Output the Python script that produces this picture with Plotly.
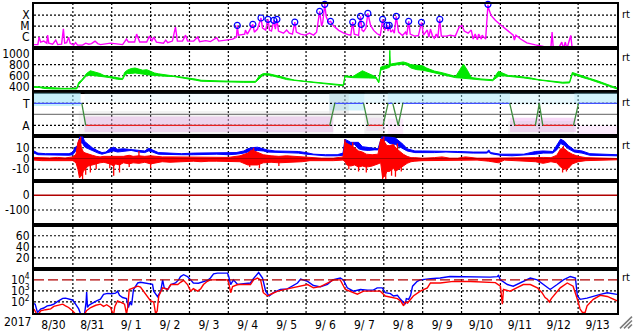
import plotly.graph_objects as go
from plotly.subplots import make_subplots

# ---------------- time axis: days since 2017-08-30 00:00 UT ----------------
day_ticks = [0.5 + i for i in range(15)]
day_labels = ["8/30", "8/31", "9/ 1", "9/ 2", "9/ 3", "9/ 4", "9/ 5", "9/ 6",
              "9/ 7", "9/ 8", "9/ 9", "9/10", "9/11", "9/12", "9/13"]
midnights = list(range(1, 15))

# ---------------- panel 1: X-ray flux (log10 W/m2) ----------------
xray_t = [0.00, 0.10, 0.13, 0.17, 0.25, 0.33, 0.35, 0.38, 0.48, 0.56,
          0.61, 0.71, 0.756, 0.79, 0.84, 0.89, 0.93, 1.02, 1.07, 1.12,
          1.25, 1.33, 1.41, 1.48, 1.57, 1.64, 1.71, 1.97, 2.18, 2.28,
          2.38, 2.43, 2.59, 2.64, 2.72, 2.90, 2.97, 3.03, 3.08, 3.15,
          3.33, 3.39, 3.44, 3.56, 3.64, 3.69, 3.82, 3.90, 3.95, 4.11,
          4.21, 4.26, 4.42, 4.54, 4.70, 4.75, 4.93, 5.11, 5.21, 5.23,
          5.26, 5.42, 5.44, 5.49, 5.63, 5.67, 5.75, 5.84, 5.88, 5.96,
          6.02, 6.06, 6.11, 6.17, 6.21, 6.25, 6.29, 6.42, 6.50, 6.57,
          6.65, 6.71, 6.75, 6.86, 6.98, 7.09, 7.19, 7.27, 7.35, 7.40,
          7.43, 7.48, 7.52, 7.58, 7.63, 7.71, 7.84, 7.97, 8.10, 8.15,
          8.20, 8.24, 8.35, 8.40, 8.44, 8.48, 8.54, 8.59, 8.66, 8.74,
          8.83, 8.91, 8.97, 9.02, 9.05, 9.08, 9.11, 9.14, 9.18, 9.23,
          9.27, 9.32, 9.38, 9.48, 9.56, 9.59, 9.64, 9.68, 9.79, 9.89,
          9.97, 10.02, 10.12, 10.16, 10.20, 10.25, 10.30, 10.35, 10.39, 10.44,
          10.48, 10.61, 10.71, 10.84, 10.94, 11.01, 11.07, 11.17, 11.25, 11.30,
          11.35, 11.41, 11.44, 11.51, 11.53, 11.62, 11.68, 11.70, 11.76, 11.87,
          12.00, 12.13, 12.25, 12.33, 12.36, 12.40, 12.51, 12.68, 12.90, 13.11,
          13.30, 13.33, 13.36, 13.49, 13.58, 13.62, 13.67, 13.71, 13.81, 13.85,
          14.26, 14.31, 14.36, 14.72, 14.75, 14.78, 15.0]
xray_log = [-6.68, -6.68, -6.0, -6.45, -6.36, -6.55, -5.82, -6.55, -6.64, -6.27,
            -6.68, -6.64, -5.25, -6.55, -6.5, -6.0, -6.55, -6.73, -6.5, -6.73,
            -6.73, -6.55, -6.64, -6.59, -6.36, -6.59, -6.68, -6.55, -6.64, -6.68,
            -6.18, -6.45, -6.45, -5.73, -6.45, -6.45, -5.91, -6.36, -6.0, -6.45,
            -6.55, -6.27, -6.5, -6.36, -5.09, -6.36, -6.36, -5.82, -6.36, -6.36,
            -6.0, -6.41, -6.32, -6.41, -6.05, -6.36, -6.27, -6.18, -6.0, -4.94,
            -5.82, -5.73, -5.36, -5.73, -4.85, -5.55, -5.27, -4.27, -5.18, -5.36,
            -4.39, -5.36, -5.45, -4.48, -5.27, -4.39, -5.45, -5.64, -5.36, -5.64,
            -5.73, -4.64, -5.55, -5.73, -5.82, -5.64, -5.82, -5.55, -3.66, -5.0,
            -4.64, -3.03, -4.18, -4.64, -4.57, -5.0, -5.39, -5.64, -5.79, -5.82,
            -4.64, -5.73, -5.85, -4.12, -5.36, -5.48, -5.18, -3.85, -4.94, -5.39,
            -5.70, -5.85, -4.39, -5.39, -5.18, -4.94, -5.45, -4.94, -5.55, -5.36,
            -5.64, -4.12, -5.55, -5.85, -5.55, -5.82, -4.57, -5.73, -5.91, -5.86,
            -4.66, -5.82, -5.36, -6.0, -5.27, -5.86, -6.09, -5.73, -6.05, -4.39,
            -5.91, -5.91, -5.82, -5.91, -5.09, -4.94, -5.45, -5.64, -5.36, -6.18,
            -5.73, -6.23, -5.73, -6.18, -5.82, -6.18, -3.07, -3.43, -4.03, -4.48,
            -4.88, -5.25, -5.55, -5.82, -6.27, -5.82, -6.15, -6.52, -6.70, -6.85,
            -6.91, -5.55, -7.0, -7.05, -6.45, -7.05, -6.45, -7.05, -5.85, -7.1,
            -7.1, -6.91, -7.1, -7.1, -6.95, -7.1, -7.1]
flare_t = [5.23, 5.63, 5.84, 6.02, 6.17, 6.25, 6.71, 7.35, 7.48, 7.63, 8.20,
           8.40, 8.42, 8.59, 8.97, 9.08, 9.14, 9.32, 9.64, 9.97, 10.44, 11.68]
flare_log = [-4.94, -4.85, -4.27, -4.39, -4.48, -4.39, -4.64, -3.66, -3.03, -4.57, -4.64,
             -4.12, -4.85, -3.85, -4.39, -4.94, -4.94, -4.12, -4.57, -4.66, -4.39, -3.03]
xray_class_vals = [1e-4, 1e-5, 1e-6]
xray_class_text = ["X", "M", "C"]

# ---------------- panel 2: solar wind speed (km/s), envelope ----------------
wind_t = [0.0, 0.15, 0.25, 0.5, 0.75, 1.0, 1.1, 1.15, 1.22, 1.3,
          1.35, 1.45, 1.55, 1.7, 1.8, 1.95, 2.05, 2.15, 2.28, 2.33,
          2.4, 2.5, 2.6, 2.7, 2.8, 2.9, 3.0, 3.1, 3.2, 3.4,
          3.6, 3.8, 4.0, 4.15, 4.3, 4.6, 5.0, 5.4, 5.7, 5.8,
          5.9, 6.05, 6.2, 6.35, 6.5, 6.7, 7.0, 7.4, 7.8, 7.96,
          8.0, 8.2, 8.45, 8.6, 8.8, 8.87, 8.92, 9.05, 9.14, 9.155, 9.17, 9.2,
          9.35, 9.5, 9.6, 9.7, 9.85, 10.0, 10.1, 10.3, 10.5, 10.7,
          10.85, 10.95, 11.05, 11.15, 11.25, 11.5, 11.8, 11.95, 12.05, 12.2,
          12.4, 12.6, 12.8, 13.0, 13.3, 13.6, 13.78, 13.85, 13.95, 14.1,
          14.3, 14.5, 14.7, 14.9, 15.0]
wind_lo = [390, 385, 370, 360, 355, 358, 360, 440, 500, 560,
           600, 610, 600, 590, 580, 565, 555, 535, 530, 600,
           640, 640, 650, 640, 630, 620, 610, 600, 595, 590,
           585, 560, 540, 520, 500, 490, 485, 480, 480, 550,
           615, 610, 590, 560, 530, 505, 480, 460, 430, 420,
           580, 565, 560, 560, 555, 470, 700, 730, 750, 760, 780, 790,
           800, 810, 790, 740, 710, 700, 680, 650, 620, 590,
           565, 560, 560, 555, 545, 525, 510, 590, 600, 585,
           575, 560, 540, 510, 490, 465, 470, 620, 610, 570,
           530, 490, 440, 385, 360]
wind_hi = [405, 398, 385, 375, 370, 372, 378, 480, 520, 590,
           640, 690, 670, 640, 605, 585, 572, 555, 548, 660,
           700, 730, 740, 720, 700, 710, 680, 650, 635, 615,
           605, 585, 565, 540, 518, 508, 502, 498, 498, 600,
           640, 635, 615, 585, 555, 522, 498, 474, 448, 434,
           598, 585, 690, 640, 578, 488, 755, 785, 795, 1060, 805, 815,
           830, 850, 830, 800, 790, 780, 740, 685, 655, 615,
           588, 700, 810, 700, 568, 542, 528, 680, 655, 605,
           596, 582, 557, 527, 507, 482, 488, 660, 635, 595,
           552, 508, 458, 402, 378]
wind_ticks = [1000, 800, 600, 400]
wind_grid = [800, 600, 400]

# ---------------- panel 3: IMF sector (T = +1, A = -1) ----------------
ta_t = [0, 1.23, 1.33, 7.61, 7.74, 8.48, 8.60, 8.98, 9.11, 9.23, 9.37, 9.49,
        12.24, 12.37, 12.90, 13.00, 13.09, 13.88, 14.01, 15.0]
ta_v = [1, 1, -1, -1, 1, 1, -1, -1, 1, 1, -1, 1, 1, -1, -1, 1, -1, -1, 1, 1]
# scattered direction samples summarised as bands: start, end, low, high, kind, density
band_t0 = [0.00, 1.30, 7.60, 8.50, 9.10, 12.25, 13.90,
           1.30, 8.55, 9.10, 12.25, 14.00,
           1.15, 7.60, 8.50, 12.20]
band_t1 = [1.20, 7.60, 8.50, 9.10, 12.25, 13.90, 15.00,
           7.70, 9.05, 9.50, 13.95, 15.00,
           7.70, 8.10, 9.00, 13.90]
band_lo = [0.75, 1.10, 0.35, 1.00, 0.95, 0.90, 0.95,
           -1.60, -1.50, -1.80, -1.60, -1.90,
           -1.90, 0.00, -1.90, -1.90]
band_hi = [1.95, 1.95, 1.90, 1.95, 1.95, 1.95, 1.95,
           -0.20, -0.30, -0.40, -0.30, -1.00,
           0.30, 1.90, 0.00, -0.60]
band_kind = ["T", "T", "T", "T", "T", "T", "T",
             "A", "A", "A", "A", "A",
             "N", "N", "N", "N"]
band_dens = [0.55, 0.12, 0.45, 0.25, 0.45, 0.25, 0.45,
             0.45, 0.22, 0.25, 0.45, 0.22,
             0.18, 0.25, 0.22, 0.18]

# ---------------- panel 4: IMF Bt (blue) and Bz (red), nT ----------------
bt_t = [0.0, 0.1, 0.3, 0.6, 0.9, 1.0, 1.05, 1.12, 1.18, 1.25,
        1.3, 1.4, 1.5, 1.65, 1.75, 1.85, 1.95, 2.05, 2.15, 2.3,
        2.5, 2.7, 2.85, 2.95, 3.05, 3.2, 3.5, 3.8, 4.1, 4.4,
        4.7, 5.0, 5.2, 5.4, 5.5, 5.6, 5.75, 5.9, 6.0, 6.2,
        6.5, 6.8, 7.0, 7.2, 7.5, 7.8, 7.95, 8.0, 8.05, 8.15,
        8.25, 8.35, 8.45, 8.6, 8.75, 8.85, 8.95, 9.05, 9.15, 9.3,
        9.4, 9.5, 9.6, 9.8, 10.0, 10.3, 10.6, 10.9, 11.3, 11.65,
        11.7, 11.75, 12.0, 12.3, 12.6, 12.9, 13.1, 13.35, 13.45, 13.55,
        13.65, 13.75, 13.9, 14.1, 14.3, 14.6, 15.0]
bt_lo = [5, 3.5, 3.5, 3, 3, 3.5, 6, 9, 15, 14,
         11, 9, 7, 5, 4, 4.5, 6, 7, 6, 7,
         7.5, 6, 5.5, 7, 6, 4, 3.5, 3.5, 3.5, 3.5,
         4, 3.5, 4, 5, 6, 7, 7.5, 7, 6, 5.5,
         5.5, 5, 4, 3, 2.5, 2.5, 3, 10, 13, 12,
         13, 9, 8, 7.5, 8, 8, 15, 17, 14, 13,
         11, 9, 7, 5.5, 5.5, 5.5, 6, 5.5, 5, 5,
         6, 4.5, 3, 2.5, 3, 4, 5, 5, 8, 14,
         12, 9, 6, 5, 3, 2.5, 2.5]
bt_hi = [7, 5, 4.5, 4.5, 4.5, 6, 10, 12, 20.5, 20.5,
         16, 13, 10, 7, 5.5, 6, 9, 10.5, 8.5, 9,
         8.5, 8, 7, 9.5, 8, 5.5, 5, 4.5, 5, 5,
         5, 5.5, 5.5, 7, 9, 10, 10.5, 9, 8, 7,
         7, 6.5, 5.5, 4, 3.5, 3.5, 5, 17.5, 17, 15,
         15, 15, 11, 10, 9.5, 9, 20.5, 20.5, 20, 19,
         16, 13, 9, 7, 7, 7, 7, 6.5, 6, 6,
         8, 5.5, 4, 4, 4, 6.5, 7, 6.5, 12, 18,
         16, 12, 8, 7, 4.5, 4, 3.5]
# dense core of the Bz trace
bz_t = [0.0, 0.2, 0.4, 0.6, 0.8, 1.0, 1.08, 1.13, 1.17, 1.22,
        1.27, 1.33, 1.4, 1.5, 1.6, 1.7, 1.8, 1.95, 2.05, 2.1,
        2.2, 2.3, 2.45, 2.55, 2.7, 2.85, 3.0, 3.1, 3.3, 3.5,
        3.7, 3.9, 4.1, 4.3, 4.5, 4.7, 5.0, 5.3, 5.5, 5.6,
        5.75, 5.9, 6.1, 6.3, 6.5, 6.7, 6.9, 7.1, 7.4, 7.7,
        7.95, 8.0, 8.05, 8.15, 8.25, 8.35, 8.45, 8.55, 8.7, 8.85,
        8.92, 8.97, 9.03, 9.08, 9.15, 9.25, 9.3, 9.4, 9.5, 9.6,
        9.7, 9.8, 10.0, 10.3, 10.5, 10.7, 10.9, 11.1, 11.4, 11.7,
        11.95, 12.1, 12.4, 12.6, 12.9, 13.1, 13.3, 13.45, 13.55, 13.65,
        13.75, 13.85, 14.0, 14.2, 14.5, 15.0]
bz_lo = [-1.5, -2, -2.5, -2, -2, -2, -4, -10, -18, -16,
         -12, -9, -7, -6, -5, -4, -3.5, -5, -7, -5,
         -6, -4, -5, -4, -4.5, -3.5, -5, -4, -3, -3.5,
         -3, -3, -2.5, -3, -2.5, -2.5, -2.5, -3, -6, -6,
         -6, -4, -3.5, -4, -4, -3.5, -3, -2, -2, -2,
         -1.5, -3, -6, -7, -6, -8, -7, -8, -7, -5,
         -4, -18, -16, -12, -12, -9, -12, -9, -7, -4.5,
         -3, -2.5, -2, -2, -1.5, -1.5, -2, -1.5, -1.5, -2.5,
         -4, -1.5, -2, -2.5, -3, -4.5, -3, -4, -8, -10,
         -9, -5, -3, -2, -1.5, -1.2]
bz_hi = [1, 0.5, 0.5, 1, 0.5, 1.5, 4, 15, 18, 10,
         6, 5, 4, 3, 2, 1.5, 2, 2, 2, 1.5,
         2, 2, 3, 2, 2.5, 2, 2.5, 2, 1.5, 1.5,
         1.5, 1.5, 1, 1, 1, 1, 1, 2.5, 5, 8,
         6, 3.5, 2.5, 2, 2.5, 2, 1.5, 0.5, 0.3, 0.3,
         1.5, 15, 14, 12, 10, 7, 6, 4, 3.5, 4,
         18, 18, 15, 12, 12, 13, 10, 7, 4, 2,
         0.8, 0.8, 0.3, 0.8, 1.5, 0.3, 0.3, 1.5, 0.3, 0.3,
         0.3, 0.8, 0.8, 0.8, 0.8, 1, 0.8, 3, 9, 9,
         6, 4, 2, 0.8, 0.3, 0]
# isolated Bz excursions beyond the dense core
bz_spike_t = [1.20, 1.25, 1.33, 1.45, 1.60, 1.95, 2.05, 2.20, 2.45, 2.70, 3.00,
              5.55, 5.65, 5.80, 6.30, 8.00, 8.10, 8.20, 8.35, 8.55, 8.97, 9.00,
              9.05, 9.20, 9.30, 9.35, 9.45, 13.60, 13.62, 13.70]
bz_spike_v = [20.5, -19, -15, -13, -10, -9, -16, -13, -8, 7, -9,
              -8, 10, -9, -7, 17.5, -10, 15, -12, -13, -20.8, 20.5,
              -20.8, -16, -17, 14, -12, -13, 11.5, -12]
b_ticks = [10, 0, -10]

# ---------------- panels 5 and 6: empty scales ----------------
p5_ticks = [0, -100]
p6_ticks = [60, 40, 20]

# ---------------- panel 7: particle flux (log10), blue and red ----------------
p7_blue_t = [0.0, 0.03, 0.09, 0.12, 0.17, 0.25, 0.34, 0.43, 0.51, 0.63,
             0.74, 0.81, 0.89, 0.99, 1.07, 1.15, 1.20, 1.30, 1.34, 1.355,
             1.375, 1.41, 1.46, 1.53, 1.61, 1.71, 1.79, 1.89, 1.99, 2.10,
             2.15, 2.20, 2.28, 2.38, 2.43, 2.47, 2.51, 2.56, 2.67, 2.74,
             2.82, 2.92, 3.05, 3.08, 3.13, 3.18, 3.26, 3.31, 3.35, 3.44,
             3.52, 3.64, 3.72, 3.77, 3.85, 3.95, 4.03, 4.10, 4.23, 4.36,
             4.46, 4.54, 4.62, 4.72, 4.85, 4.98, 5.01, 5.06, 5.13, 5.24,
             5.39, 5.57, 5.62, 5.70, 5.78, 5.88, 5.96, 6.05, 6.16, 6.34,
             6.52, 6.78, 6.86, 7.04, 7.19, 7.37, 7.55, 7.68, 7.88, 7.96,
             8.06, 8.22, 8.40, 8.58, 8.73, 8.83, 8.96, 9.04, 9.17, 9.25,
             9.35, 9.43, 9.51, 9.55, 9.58, 9.64, 9.69, 9.74, 9.86, 9.94,
             10.20, 10.45, 10.70, 10.96, 11.35, 11.74, 11.92, 11.95, 12.00, 12.18,
             12.33, 12.51, 12.77, 12.95, 13.10, 13.28, 13.46, 13.62, 13.80, 13.93,
             13.98, 14.05, 14.23, 14.39, 14.57, 14.75, 15.0]
p7_blue_log = [1.85, 1.8, 1.05, 1.15, 1.36, 1.45, 1.65, 1.7, 1.8, 2.1,
               2.33, 2.35, 2.3, 2.18, 1.8, 1.37, 0.9, 0.9, 2.0, 2.9,
               1.5, 1.7, 1.8, 1.95, 2.1, 2.25, 2.69, 2.78, 2.75, 2.8,
               2.98, 2.6, 2.4, 2.3, 1.5, 2.0, 1.7, 3.13, 3.72, 3.78,
               3.75, 3.67, 3.6, 2.98, 2.7, 2.48, 2.98, 4.0, 3.28, 3.13,
               3.58, 3.72, 4.0, 4.3, 4.47, 4.3, 4.0, 3.72, 3.7, 3.87,
               3.95, 4.17, 4.55, 4.61, 4.62, 4.61, 4.31, 3.58, 4.0, 3.58,
               3.65, 3.72, 4.0, 4.31, 4.67, 4.17, 2.98, 2.54, 2.84, 3.13,
               3.19, 3.72, 4.08, 3.87, 3.49, 3.37, 3.6, 4.0, 4.17, 4.0,
               3.28, 2.98, 3.13, 3.07, 3.07, 3.28, 3.28, 2.84, 2.75, 2.54,
               2.6, 2.24, 2.0, 1.8, 2.3, 2.24, 2.6, 3.43, 3.87, 4.0,
               4.11, 4.17, 4.31, 4.3, 4.25, 4.25, 4.3, 4.4, 4.0, 3.58,
               3.43, 3.72, 4.17, 4.0, 3.58, 3.13, 3.58, 4.0, 4.31, 4.17,
               2.54, 2.24, 2.35, 2.54, 2.69, 2.84, 2.69]
p7_red_t = [0.0, 0.02, 0.07, 0.12, 0.17, 0.30, 0.43, 0.51, 0.61, 0.74,
            0.81, 0.89, 0.99, 1.07, 1.30, 1.35, 1.46, 1.59, 1.71, 1.79,
            1.87, 1.97, 2.02, 2.05, 2.08, 2.15, 2.25, 2.33, 2.38, 2.41,
            2.45, 2.56, 2.67, 2.74, 2.82, 2.92, 3.0, 3.08, 3.13, 3.17,
            3.21, 3.31, 3.44, 3.52, 3.70, 3.77, 3.85, 3.95, 4.03, 4.10,
            4.21, 4.29, 4.36, 4.46, 4.54, 4.80, 4.98, 5.01, 5.06, 5.11,
            5.24, 5.57, 5.65, 5.75, 5.83, 5.90, 6.01, 6.09, 6.27, 6.52,
            6.86, 7.04, 7.19, 7.37, 7.71, 7.88, 8.01, 8.22, 8.32, 8.48,
            8.73, 8.91, 9.04, 9.22, 9.35, 9.43, 9.51, 9.55, 9.61, 9.76,
            9.94, 10.12, 10.20, 10.45, 10.79, 11.23, 11.82, 11.87, 12.00, 12.05,
            12.08, 12.25, 12.43, 12.59, 12.77, 12.95, 13.07, 13.15, 13.21, 13.26,
            13.31, 13.36, 13.54, 13.72, 13.87, 13.98, 14.05, 14.11, 14.18, 14.23,
            14.39, 14.57, 14.75, 15.0]
p7_red_log = [1.36, 1.2, 0.9, 0.9, 1.2, 1.3, 1.37, 1.6, 1.7, 1.8,
              1.65, 1.5, 1.2, 0.9, 0.9, 1.2, 1.5, 1.7, 1.8, 1.6,
              1.75, 1.5, 1.0, 0.9, 1.6, 2.1, 1.95, 1.8, 0.9, 1.5,
              3.13, 3.3, 3.43, 3.35, 2.98, 2.54, 2.1, 2.0, 0.9, 1.2,
              2.54, 3.28, 3.13, 3.58, 3.58, 3.78, 3.96, 3.58, 2.98, 3.2,
              2.98, 3.2, 3.58, 3.87, 4.0, 4.02, 4.0, 3.72, 2.84, 3.4,
              3.58, 3.58, 4.0, 4.17, 4.0, 2.84, 2.54, 2.7, 2.98, 3.19,
              3.49, 3.58, 3.28, 3.4, 4.0, 4.0, 3.13, 2.84, 2.7, 2.98,
              2.98, 2.98, 2.54, 2.4, 2.3, 2.1, 1.65, 2.0, 1.9, 2.54,
              2.98, 3.28, 3.72, 3.72, 3.87, 3.85, 3.8, 3.75, 3.43, 1.8,
              3.13, 2.98, 3.3, 3.58, 3.58, 3.28, 2.84, 2.4, 2.24, 2.0,
              2.3, 2.5, 3.28, 3.72, 3.43, 2.24, 1.36, 1.05, 1.05, 1.65,
              2.24, 2.6, 2.5, 2.1]
p7_threshold = 1e4
p7_ticks = [1e4, 1e3, 1e2]
p7_ticktext = ["10<sup>4</sup>", "10<sup>3</sup>", "10<sup>2</sup>"]
p7_grid = [1e3, 1e2]

# =====================================================================
FONT = "Liberation Sans Narrow, DejaVu Sans Condensed, Liberation Sans, Arial, sans-serif"
DOT = "2px,2px"
DARKRED = "#b00000"

fig = make_subplots(rows=7, cols=1, shared_xaxes=True, vertical_spacing=0)


def hline(row, y, color="black", dash=DOT, width=1.2):
    fig.add_trace(go.Scatter(x=[0, 15], y=[y, y], mode="lines",
                             line=dict(color=color, width=width, dash=dash),
                             hoverinfo="skip"), row=row, col=1)


def envelope(row, t, lo, hi, color):
    fig.add_trace(go.Scatter(x=list(t) + list(t)[::-1], y=list(hi) + list(lo)[::-1],
                             mode="lines", fill="toself", fillcolor=color,
                             line=dict(color=color, width=1), hoverinfo="skip"),
                  row=row, col=1)


# panel 1
for v in xray_class_vals:
    hline(1, v)
fig.add_trace(go.Scatter(x=xray_t, y=[10 ** v for v in xray_log], mode="lines",
                         line=dict(color="#ff00ff", width=1.4)), row=1, col=1)
fig.add_trace(go.Scatter(x=flare_t, y=[10 ** v for v in flare_log], mode="markers",
                         marker=dict(symbol="circle-open", size=6, color="#0000ff",
                                     line=dict(width=1.2, color="#0000ff")),
                         cliponaxis=False), row=1, col=1)

# panel 2
for v in wind_grid:
    hline(2, v)
envelope(2, wind_t, wind_lo, wind_hi, "#00e800")

# panel 3
band_rgb = {"T": (150, 225, 245), "A": (240, 170, 240), "N": (190, 190, 190)}
for t0, t1, lo, hi, k, d in zip(band_t0, band_t1, band_lo, band_hi, band_kind, band_dens):
    r, g, b = band_rgb[k]
    fig.add_trace(go.Scatter(x=[t0, t1, t1, t0, t0], y=[lo, lo, hi, hi, lo], mode="lines",
                             fill="toself", fillcolor=f"rgba({r},{g},{b},{d})",
                             line=dict(width=0), hoverinfo="skip"), row=3, col=1)
hline(3, 1)
hline(3, -1)
hline(3, 0, color="#808080", dash="solid", width=1.2)
seg = {"T": ([], []), "A": ([], []), "X": ([], [])}
for i in range(len(ta_t) - 1):
    a, b = ta_v[i], ta_v[i + 1]
    key = "T" if (a == 1 and b == 1) else ("A" if (a == -1 and b == -1) else "X")
    seg[key][0].extend([ta_t[i], ta_t[i + 1], None])
    seg[key][1].extend([a, b, None])
for key, col in (("T", "#4050ff"), ("A", "#e82020"), ("X", "#3c8c3c")):
    fig.add_trace(go.Scatter(x=seg[key][0], y=seg[key][1], mode="lines",
                             line=dict(color=col, width=1.3)), row=3, col=1)

# panel 4
hline(4, 10)
hline(4, -10)
envelope(4, bt_t, bt_lo, bt_hi, "#0000ff")
sx, sy = [], []
for t, v in zip(bz_spike_t, bz_spike_v):
    sx.extend([t, t, None])
    sy.extend([0, v, None])
fig.add_trace(go.Scatter(x=sx, y=sy, mode="lines", line=dict(color="#ff0000", width=1.3),
                         hoverinfo="skip"), row=4, col=1)
envelope(4, bz_t, bz_lo, bz_hi, "#ff0000")
hline(4, 0, color=DARKRED, dash="solid", width=1.2)

# panel 5
hline(5, -100)
hline(5, 0, color=DARKRED, dash="solid", width=1.5)

# panel 6
for v in p6_ticks:
    hline(6, v)

# panel 7
for v in p7_grid:
    hline(7, v)
fig.add_trace(go.Scatter(x=p7_blue_t, y=[10 ** v for v in p7_blue_log], mode="lines",
                         line=dict(color="#0000ff", width=1.4)), row=7, col=1)
fig.add_trace(go.Scatter(x=p7_red_t, y=[10 ** v for v in p7_red_log], mode="lines",
                         line=dict(color="#ff0000", width=1.4)), row=7, col=1)
hline(7, p7_threshold, color=DARKRED, dash="10px,4px", width=1.3)

# ---------------- axes ----------------
axis_common = dict(showgrid=False, zeroline=False, showline=True, mirror=True,
                   linecolor="black", linewidth=2, ticks="",
                   tickfont=dict(family=FONT, size=12, color="black"))
for r in range(1, 8):
    fig.update_xaxes(range=[0, 15], tickvals=day_ticks, ticktext=day_labels,
                     row=r, col=1, **axis_common)
fig.update_yaxes(type="log", range=[-7, -3], tickvals=xray_class_vals,
                 ticktext=xray_class_text, row=1, col=1, **axis_common)
fig.update_yaxes(range=[300, 1100], tickvals=wind_ticks, row=2, col=1, **axis_common)
fig.update_yaxes(range=[-2, 2], tickvals=[1, -1], ticktext=["T", "A"], row=3, col=1, **axis_common)
fig.update_yaxes(range=[-20.5, 20.5], tickvals=b_ticks, ticktext=["10", "0", "-10"],
                 row=4, col=1, **axis_common)
fig.update_yaxes(range=[-200, 100], tickvals=p5_ticks, ticktext=["0", "-100"],
                 row=5, col=1, **axis_common)
fig.update_yaxes(range=[0, 80], tickvals=p6_ticks, row=6, col=1, **axis_common)
fig.update_yaxes(type="log", range=[1, 5], tickvals=p7_ticks, ticktext=p7_ticktext,
                 row=7, col=1, **axis_common)

# vertical dotted day boundaries
shapes = []
for d in midnights:
    shapes.append(dict(type="line", xref="x", yref="paper", x0=d, x1=d, y0=0, y1=1,
                       line=dict(color="black", width=1.2, dash=DOT), layer="below"))

# resize-grip hatch bottom right (paper coords from pixel layout)
W_PLOT, H_PLOT, L, T = 584.0, 315.3, 33.0, 2.0


def px(xp, yp):
    return (xp - L) / W_PLOT, (T + H_PLOT - yp) / H_PLOT


for (xa, ya, xb, yb) in ((620, 333, 632, 321), (624, 333, 632, 325), (628, 333, 632, 329)):
    x0, y0 = px(xa, ya)
    x1, y1 = px(xb, yb)
    shapes.append(dict(type="line", xref="paper", yref="paper", x0=x0, y0=y0, x1=x1, y1=y1,
                       line=dict(color="#7a7a7a", width=1.5)))

annotations = []
for yp in (13, 57, 102, 146, 281):
    _, yy = px(0, yp)
    annotations.append(dict(text="rt", xref="paper", yref="paper", x=1, y=yy,
                            xanchor="left", yanchor="middle", xshift=3, showarrow=False,
                            font=dict(family=FONT, size=11, color="black")))
xx, yy = px(16, 326)
annotations.append(dict(text="2017", xref="paper", yref="paper", x=xx, y=yy,
                        xanchor="center", yanchor="middle", showarrow=False,
                        font=dict(family=FONT, size=12, color="black")))

fig.update_layout(width=633, height=334, margin=dict(l=33, r=16, t=2, b=17),
                  paper_bgcolor="white", plot_bgcolor="white", showlegend=False,
                  shapes=shapes, annotations=annotations,
                  font=dict(family=FONT, size=12, color="black"))

fig.write_html("out.html")
